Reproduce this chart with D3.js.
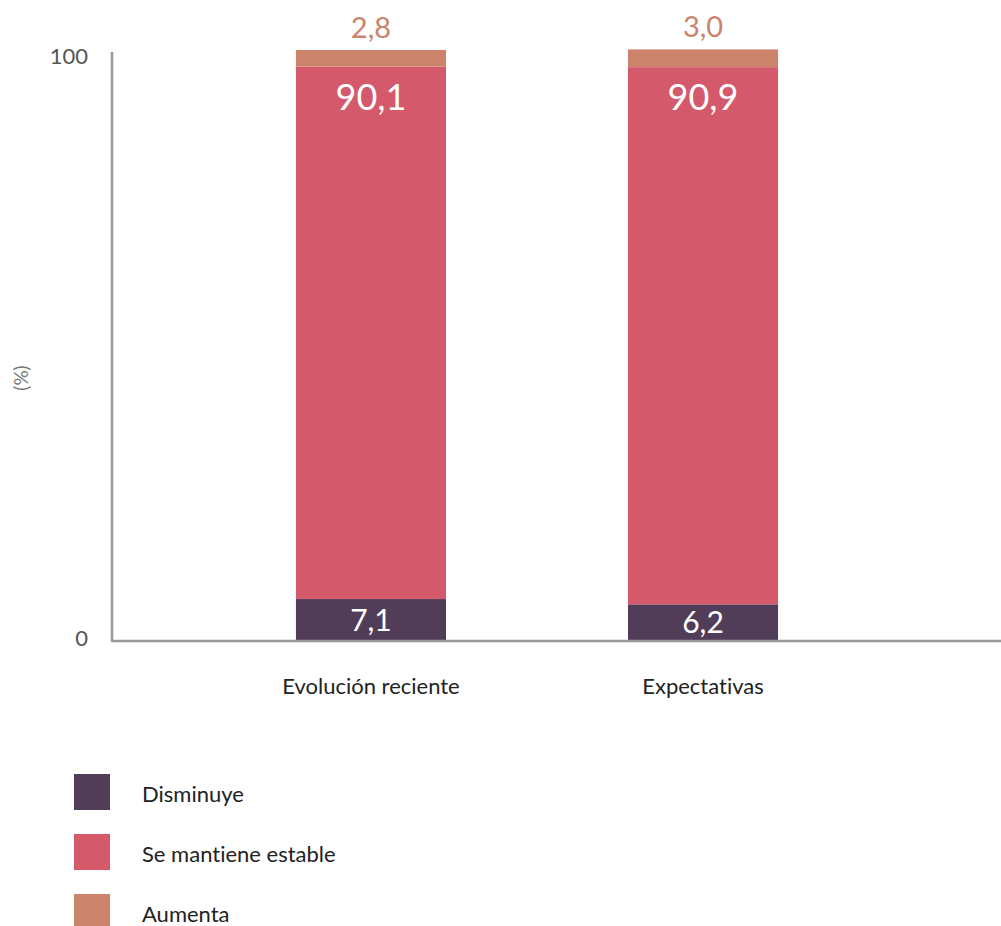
<!DOCTYPE html>
<html>
<head>
<meta charset="utf-8">
<script src="https://cdn.jsdelivr.net/npm/d3@7"></script>
<style>
  html, body { margin: 0; padding: 0; background: #fff; }
  svg { display: block; font-family: Lato, 'Noto Sans', sans-serif; font-variant-ligatures: none; }
</style>
</head>
<body>
<svg id="chart" width="1001" height="926"></svg>
<script>
// data
var categories = ['Evolución reciente', 'Expectativas'];
var seriesNames = ['Disminuye', 'Se mantiene estable', 'Aumenta'];
var disminuye = [7.1, 6.2];
var estable = [90.1, 90.9];
var aumenta = [2.8, 3.0];
var yTicks = [0, 100];

var colors = { 'Disminuye': '#523d58', 'Se mantiene estable': '#d3596b', 'Aumenta': '#cb836b' };

var svg = d3.select('#chart');

var x = d3.scaleBand()
  .domain(categories)
  .range([111, 963])
  .paddingInner(0.548)
  .paddingOuter(0.557);

var y = d3.scaleLinear()
  .domain([0, 100])
  .range([641, 50]);

var rows = categories.map(function(c, i) {
  return { cat: c, 'Disminuye': disminuye[i], 'Se mantiene estable': estable[i], 'Aumenta': aumenta[i] };
});
var stacked = d3.stack().keys(seriesNames)(rows);

// bars
svg.append('g').selectAll('g')
  .data(stacked)
  .enter().append('g')
  .attr('fill', function(d) { return colors[d.key]; })
  .selectAll('rect')
  .data(function(d) { return d; })
  .enter().append('rect')
  .attr('x', function(d) { return x(d.data.cat); })
  .attr('y', function(d) { return y(d[1]); })
  .attr('width', x.bandwidth())
  .attr('height', function(d) { return y(d[0]) - y(d[1]); });

var fmt = function(v) { return d3.format('.1f')(v).replace('.', ','); };

// value labels
stacked.forEach(function(s) {
  svg.append('g').selectAll('text')
    .data(s)
    .enter().append('text')
    .attr('x', function(d) { return x(d.data.cat) + x.bandwidth() / 2; })
    .attr('y', function(d) {
      if (s.key === 'Disminuye') return (y(d[0]) + y(d[1])) / 2;
      if (s.key === 'Se mantiene estable') return y(d[1]) + 43;
      return y(d[1]) - 12;
    })
    .attr('dy', s.key === 'Disminuye' ? '0.35em' : null)
    .attr('text-anchor', 'middle')
    .attr('font-size', s.key === 'Se mantiene estable' ? '36px' : (s.key === 'Disminuye' ? '30px' : '29px'))
    .attr('fill', s.key === 'Aumenta' ? '#cb836b' : '#ffffff')
    .text(function(d) { return fmt(d[1] - d[0]); });
});

// axes
var yAxis = svg.append('g')
  .attr('transform', 'translate(111,0)')
  .call(d3.axisLeft(y).tickValues(yTicks).tickSize(0).tickPadding(23));
yAxis.select('.domain').remove();
yAxis.selectAll('text')
  .attr('font-size', '22px')
  .attr('fill', '#555')
  .attr('font-family', 'Lato, sans-serif')
  .attr('dy', function(d) { return d === 100 ? '0.62em' : '0.2em'; });

svg.append('line')
  .attr('x1', 112).attr('x2', 112)
  .attr('y1', y(100) + 2).attr('y2', y(0))
  .attr('stroke', '#999').attr('stroke-width', 2.5);

var xAxis = svg.append('g')
  .attr('transform', 'translate(0,' + y(0) + ')')
  .call(d3.axisBottom(x).tickSize(0).tickPadding(37));
xAxis.select('.domain').remove();
xAxis.selectAll('text')
  .attr('font-size', '22px')
  .attr('fill', '#222')
  .attr('font-family', 'Lato, sans-serif');

svg.append('line')
  .attr('x1', 111).attr('x2', 1001)
  .attr('y1', y(0)).attr('y2', y(0))
  .attr('stroke', '#999').attr('stroke-width', 2.5);

svg.append('text')
  .attr('transform', 'translate(28,378) rotate(-90)')
  .attr('text-anchor', 'middle')
  .attr('font-size', '19px')
  .attr('fill', '#777')
  .text('(%)');

// legend
var legend = svg.append('g').selectAll('g')
  .data(seriesNames)
  .enter().append('g')
  .attr('transform', function(d, i) { return 'translate(74,' + (774 + i * 60) + ')'; });
legend.append('rect')
  .attr('width', 36).attr('height', 36)
  .attr('fill', function(d) { return colors[d]; });
legend.append('text')
  .attr('x', 68).attr('y', 28)
  .attr('font-size', '22px')
  .attr('fill', '#222')
  .text(function(d) { return d; });
</script>
</body>
</html>
